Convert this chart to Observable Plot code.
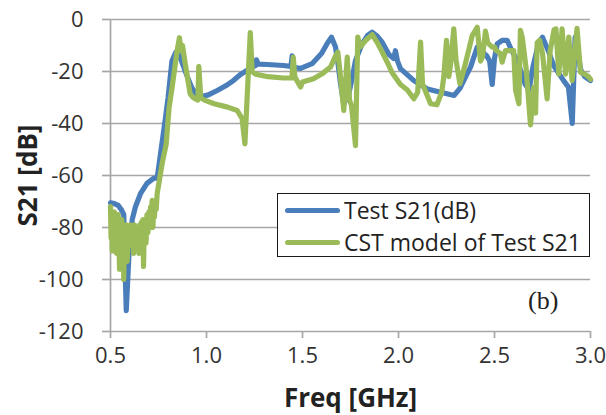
<!DOCTYPE html>
<html><head><meta charset="utf-8">
<script src="https://cdn.jsdelivr.net/npm/d3@7"></script>
<script src="https://cdn.jsdelivr.net/npm/@observablehq/plot@0.6"></script>
<style>
body{margin:0;background:#fff;}
#wrap{position:relative;width:606px;height:415px;font-family:"Open Sans",sans-serif;}
#legend{position:absolute;left:277px;top:193px;width:311px;height:62px;border:1.6px solid #1a1a1a;background:#fff;}
.row{position:absolute;left:0;height:30px;display:flex;align-items:center;}
.sw{width:55px;height:5px;border-radius:3px;margin-left:7px;margin-right:4px;}
.lt{font-size:23px;color:#222;white-space:nowrap;line-height:30px;}
#tag{position:absolute;left:528px;top:286px;font-family:"Liberation Serif",serif;font-size:26px;color:#222;}
</style></head><body><div id="wrap"></div>
<script>
const seriesNames = ["Test S21(dB)", "CST model of Test S21"];
const seriesColors = ["#4a7ebb", "#9bbb59"];
const xTicks = [0.5, 1.0, 1.5, 2.0, 2.5, 3.0];
const yTicks = [0, -20, -40, -60, -80, -100, -120];
const panelTag = "(b)";

const testFreq = [0.50,0.52,0.54,0.555,0.569,0.575,0.582,0.599,0.613,0.63,0.656,0.69,0.726,0.743,0.76,0.786,0.80,0.82,0.84,0.86,0.88,0.90,0.925,0.95,0.98,1.01,1.056,1.10,1.14,1.18,1.21,1.24,1.255,1.26,1.27,1.316,1.36,1.40,1.44,1.446,1.452,1.46,1.49,1.55,1.60,1.63,1.651,1.672,1.685,1.698,1.715,1.74,1.76,1.776,1.81,1.84,1.863,1.89,1.915,1.95,1.975,1.984,1.995,2.01,2.08,2.15,2.22,2.29,2.32,2.35,2.375,2.41,2.43,2.46,2.475,2.488,2.50,2.514,2.54,2.566,2.59,2.62,2.66,2.68,2.70,2.73,2.75,2.78,2.81,2.86,2.885,2.905,2.92,2.95,2.97,3.00];
const testS21 = [-70.5,-70.8,-71.5,-73,-75,-93,-112,-86,-77,-72,-67,-63,-61,-61,-52,-38,-30,-16,-12.6,-14,-18,-22,-26.5,-29,-29.5,-29,-27.3,-25.5,-23.5,-21,-19.6,-18.2,-17.7,-15.5,-17.2,-17.3,-17.5,-17.7,-18,-14,-21,-18.5,-18.8,-17,-13,-9,-6.8,-10.6,-17,-24.7,-32.4,-29,-22,-15.8,-9.4,-6,-4.9,-6.5,-8.7,-13.5,-15,-12,-16,-18.9,-23.5,-26.7,-28,-29.2,-26.5,-22,-18.3,-10.6,-12,-14,-16,-25,-15,-9.4,-8,-8,-12,-16,-25,-27,-18.3,-9,-6.8,-12,-18,-23.5,-26,-40,-6.8,-19.6,-22,-23.5];

const cstFreq = [0.500,0.503,0.506,0.509,0.512,0.516,0.52,0.524,0.528,0.532,0.536,0.540,0.544,0.547,0.551,0.555,0.559,0.563,0.566,0.569,0.573,0.577,0.582,0.587,0.591,0.595,0.60,0.605,0.61,0.615,0.62,0.625,0.63,0.635,0.64,0.644,0.648,0.652,0.656,0.660,0.664,0.668,0.672,0.676,0.68,0.685,0.69,0.695,0.70,0.705,0.709,0.713,0.717,0.721,0.725,0.729,0.733,0.738,0.743,0.752,0.77,0.79,0.805,0.821,0.847,0.859,0.868,0.875,0.885,0.90,0.915,0.93,0.955,0.96,0.97,0.99,1.04,1.11,1.16,1.185,1.20,1.215,1.228,1.238,1.255,1.32,1.40,1.445,1.452,1.46,1.475,1.49,1.50,1.557,1.60,1.646,1.672,1.684,1.695,1.715,1.733,1.745,1.755,1.776,1.788,1.80,1.83,1.863,1.89,1.915,1.945,1.967,2.01,2.045,2.08,2.10,2.115,2.125,2.167,2.20,2.225,2.236,2.25,2.262,2.27,2.288,2.30,2.32,2.345,2.384,2.41,2.427,2.437,2.453,2.465,2.488,2.50,2.51,2.53,2.54,2.557,2.60,2.61,2.627,2.635,2.645,2.665,2.6875,2.705,2.714,2.722,2.735,2.75,2.774,2.79,2.81,2.82,2.835,2.852,2.87,2.887,2.904,2.93,2.948,2.97,2.99,3.00];
const cstS21 = [-72,-84,-76,-89,-75,-82,-74,-86,-76,-90,-77,-75,-84,-96,-78,-85,-77,-92,-80,-100,-81,-88,-79,-93,-83,-80,-87,-79,-85,-80,-90,-79,-83,-80,-86,-81,-90,-79,-84,-78,-88,-77,-95,-79,-77,-86,-75,-82,-74,-80,-72,-78,-69.6,-80,-71,-76,-70,-73,-67,-63,-55,-48,-34,-26,-12,-7,-12,-10,-15,-22,-28.6,-30,-31,-18,-30,-31,-32.4,-33.7,-35,-38,-47.8,-25,-5,-20,-21,-22,-22.5,-22.5,-14.5,-22,-24,-26,-24,-22.8,-21,-18.3,-14,-12.6,-20,-35,-14.5,-31,-33,-48.5,-6.8,-10.6,-8,-5.8,-9,-12.5,-17,-20.5,-25,-27,-30.5,-28,-8.7,-24.7,-32.4,-32.8,-28,-22,-8,-22,-18,-3.6,-15.8,-24.7,-18,-6.2,-3,-16,-14.5,-4.5,-9,-10.6,-10.6,-12,-13,-16.4,-12,-12,-27.3,-32.4,-4.2,-7,-19,-40.5,-26,-36,-9,-8,-13,-30.5,-12,-4,-3.6,-21,-3.6,-21,-6.8,-23.5,-3.4,-20.3,-21,-22,-23];

const test = testFreq.map((f, i) => ({f, v: testS21[i]}));
const cst = cstFreq.map((f, i) => ({f, v: cstS21[i]}));

const grey = "#a6a6a6";
const chart = Plot.plot({
  width: 606, height: 415,
  marginLeft: 110, marginRight: 16, marginTop: 19, marginBottom: 84,
  style: {fontFamily: "Open Sans, sans-serif", fontSize: "22px", color: "#333", background: "white", overflow: "visible"},
  x: {domain: [0.5, 3.0]},
  y: {domain: [-120, 0]},
  marks: [
    Plot.gridY(yTicks, {stroke: grey, strokeOpacity: 1, strokeWidth: 1.7}),
    Plot.ruleX([0.5], {stroke: grey, strokeWidth: 1.7}),
    Plot.axisY(yTicks, {tickSize: 8, tickPadding: 19, stroke: grey, strokeWidth: 1.7, fill: "#333", label: null, tickFormat: d => String(d)}),
    Plot.axisX(xTicks, {tickSize: 7, tickPadding: 9, stroke: grey, strokeWidth: 1.7, fill: "#333", label: null, tickFormat: d3.format(".1f")}),
    Plot.line(test, {x: "f", y: "v", stroke: seriesColors[0], strokeWidth: 5.2, strokeLinejoin: "round", strokeLinecap: "round"}),
    Plot.line(cst, {x: "f", y: "v", stroke: seriesColors[1], strokeWidth: 5.2, strokeLinejoin: "round", strokeLinecap: "round"}),
    Plot.text(["S21 [dB]"], {frameAnchor: "left", dx: -82, rotate: -90, fontSize: 26, fontWeight: "bold", fill: "#222", textAnchor: "middle", lineAnchor: "middle"}),
    Plot.text(["Freq [GHz]"], {frameAnchor: "bottom", dy: 67, fontSize: 26, fontWeight: "bold", fill: "#222", lineAnchor: "middle"})
  ]
});
const wrap = document.getElementById("wrap");
wrap.appendChild(chart);

const legend = document.createElement("div");
legend.id = "legend";
seriesNames.forEach((name, i) => {
  const row = document.createElement("div");
  row.className = "row";
  row.style.top = (i === 0 ? 1 : 33) + "px";
  const sw = document.createElement("div");
  sw.className = "sw";
  sw.style.background = seriesColors[i];
  const t = document.createElement("span");
  t.className = "lt";
  t.textContent = name;
  row.appendChild(sw); row.appendChild(t);
  legend.appendChild(row);
});
wrap.appendChild(legend);
const tag = document.createElement("div");
tag.id = "tag";
tag.textContent = panelTag;
wrap.appendChild(tag);
</script>
</body></html>
